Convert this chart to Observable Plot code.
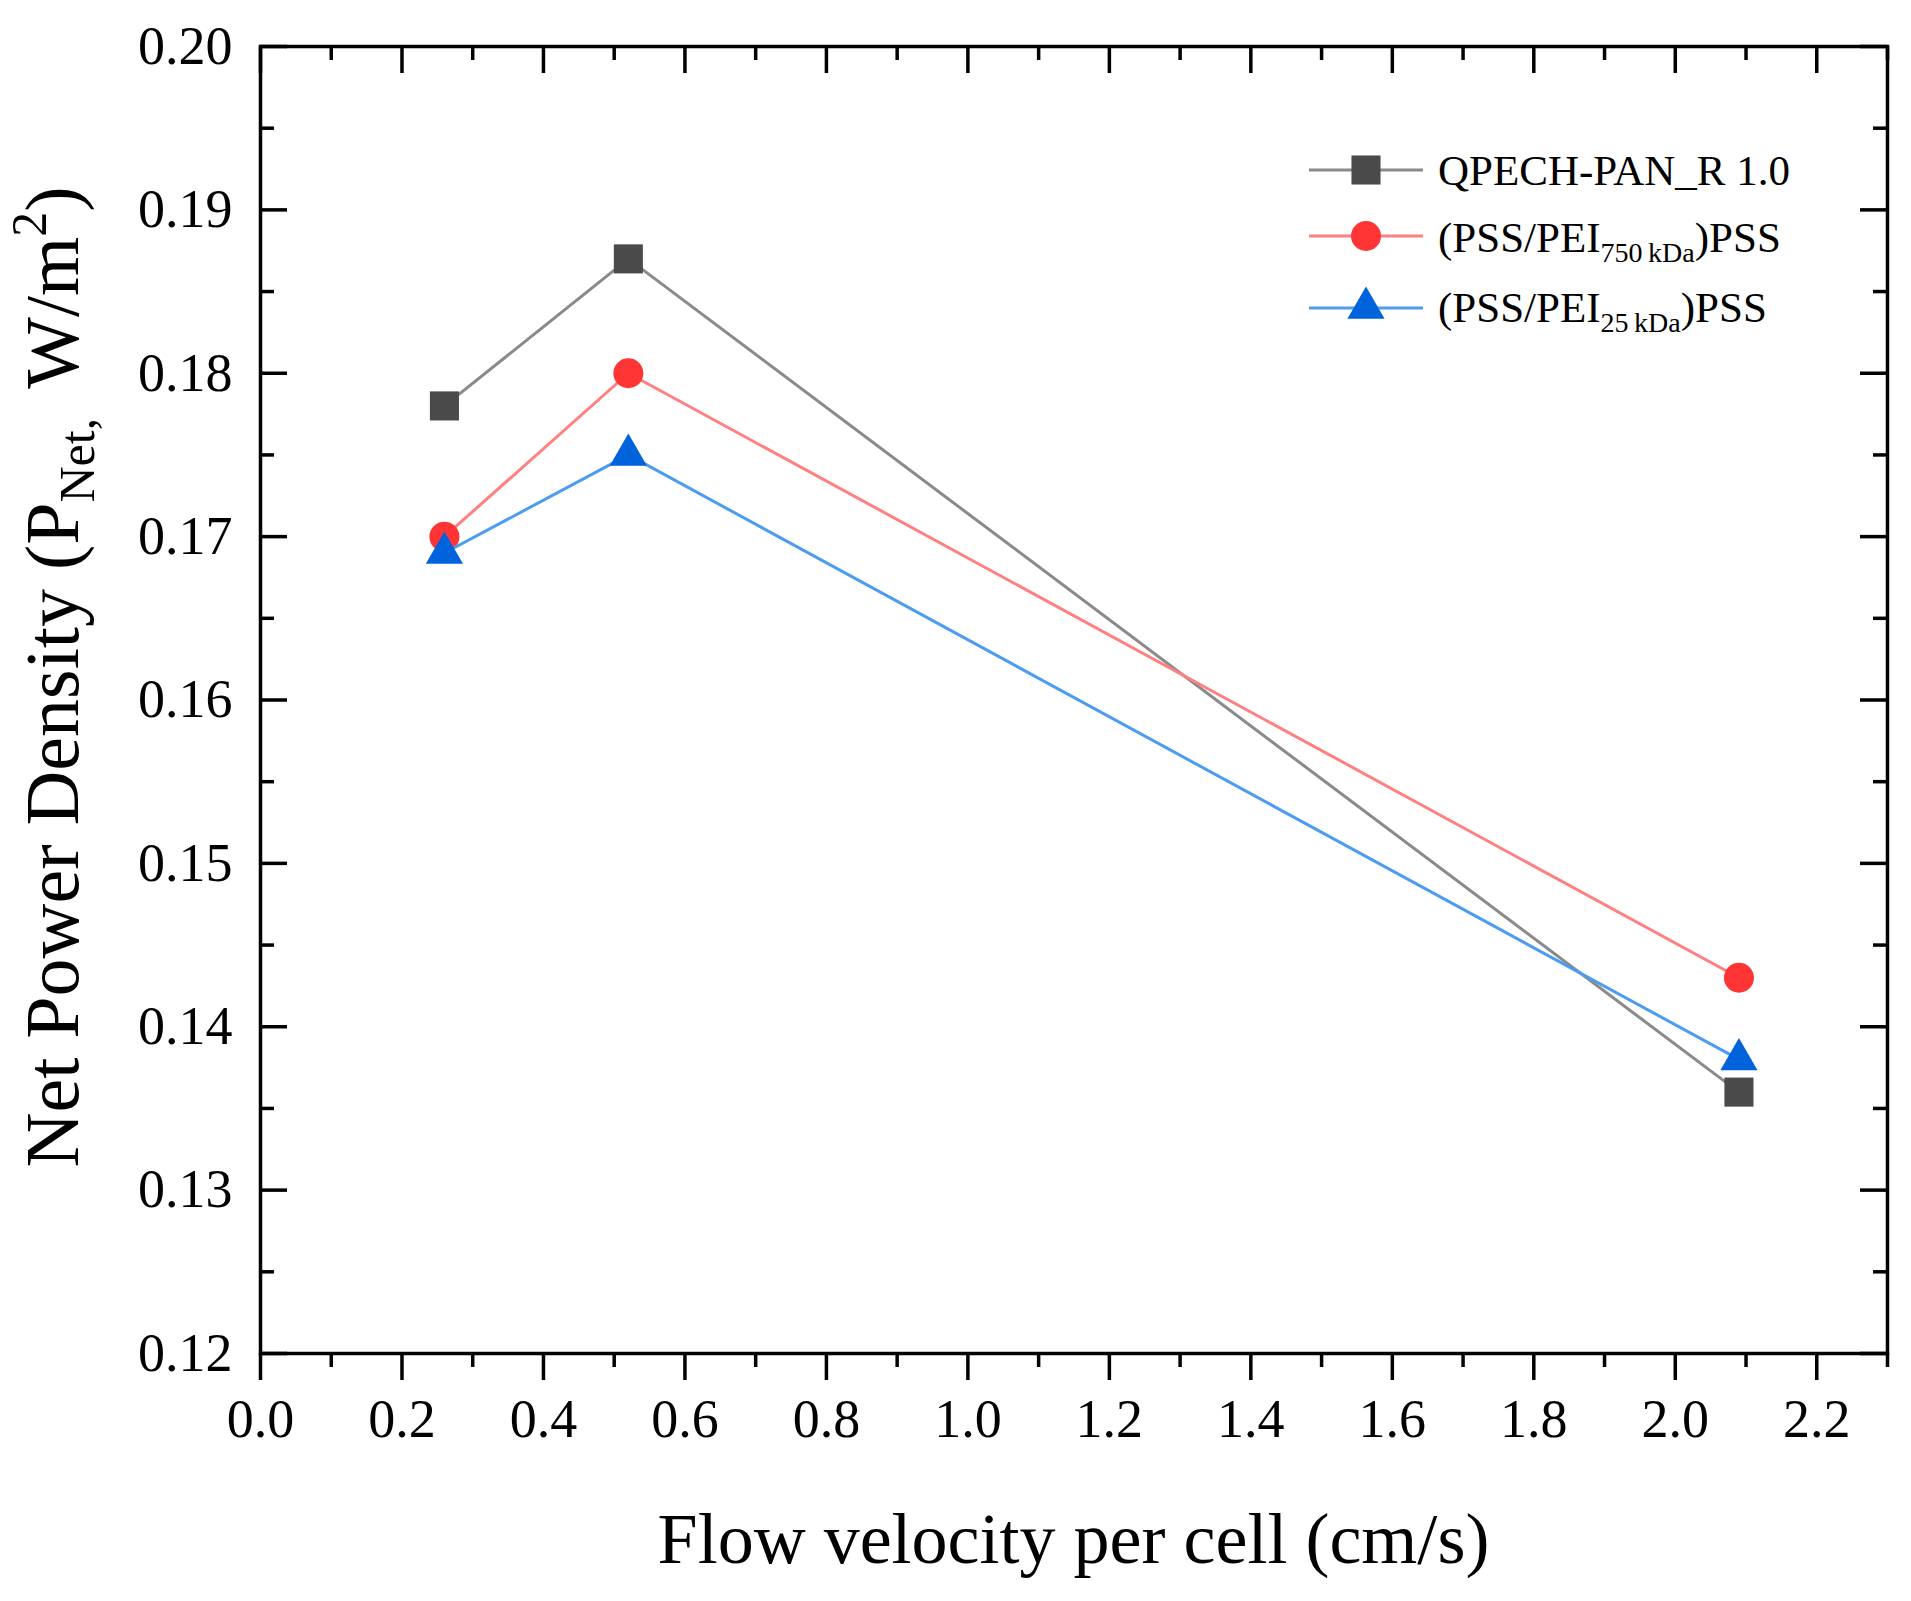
<!DOCTYPE html>
<html><head><meta charset="utf-8">
<script src="https://cdn.jsdelivr.net/npm/d3@7"></script>
<script src="https://cdn.jsdelivr.net/npm/@observablehq/plot@0.6"></script>
<style>html,body{margin:0;padding:0;background:#fff;}</style>
</head><body><div id="chart"></div>
<script>
// ---- data ----
const flowVelocity = [0.26, 0.52, 2.09];
const qpechPan = [0.178, 0.187, 0.136];
const pei750 = [0.170, 0.180, 0.143];
const pei25 = [0.169, 0.175, 0.138];
const seriesNames = ["QPECH-PAN_R 1.0", "(PSS/PEI750 kDa)PSS", "(PSS/PEI25 kDa)PSS"];
const xTickValues = [0, 0.2, 0.4, 0.6, 0.8, 1.0, 1.2, 1.4, 1.6, 1.8, 2.0, 2.2];
const xMinorTicks = [0.1, 0.3, 0.5, 0.7, 0.9, 1.1, 1.3, 1.5, 1.7, 1.9, 2.1, 2.3];
const yTickValues = [0.12, 0.13, 0.14, 0.15, 0.16, 0.17, 0.18, 0.19, 0.20];
const yMinorTicks = [0.125, 0.135, 0.145, 0.155, 0.165, 0.175, 0.185, 0.195];
const xLabel = "Flow velocity per cell (cm/s)";

// ---- style ----
const W = 1911, H = 1601;
const mL = 260, mR = 24, mT = 46, mB = H - 1353;
const pw = W - mL - mR, ph = H - mT - mB;
const styles = [
  {line: "#8a8a8a", fill: "#4a4a4a", symbol: "square", r: 16.4},
  {line: "#ff8080", fill: "#ff3535", symbol: "circle", r: 15},
  {line: "#4d9cf0", fill: "#0063dc", symbol: "triangle", r: 13.8}
];
const valueSets = [qpechPan, pei750, pei25];
const rows = valueSets.map((vals, i) => flowVelocity.map((x, j) => ({x, y: vals[j], s: seriesNames[i]})));

const seriesMarks = rows.flatMap((data, i) => [
  Plot.line(data, {x: "x", y: "y", stroke: styles[i].line, strokeWidth: 3}),
  Plot.dot(data, {x: "x", y: "y", symbol: () => styles[i].symbol, r: styles[i].r, fill: styles[i].fill, stroke: "none"})
]);

const tickStyle = {stroke: "#000", strokeWidth: 3.5};
const plot = Plot.plot({
  width: W, height: H,
  marginLeft: mL, marginRight: mR, marginTop: mT, marginBottom: mB,
  style: {fontFamily: "Liberation Serif", background: "#fff", color: "#000"},
  x: {domain: [0, 2.3]},
  y: {domain: [0.12, 0.20]},
  marks: [
    Plot.axisY(yTickValues, {tickSize: 0, tickPadding: 28, tickFormat: d3.format(".2f"), fontSize: 54, label: null}),
    Plot.axisX(xTickValues, {tickSize: 27, tickPadding: 18, tickFormat: d3.format(".1f"), fontSize: 54, label: null, strokeWidth: 3.5}),
    Plot.axisX(xMinorTicks, {tickSize: 14, tickFormat: () => "", label: null, strokeWidth: 3.5}),
    // inner ticks left / right
    Plot.tickY(yTickValues, {y: d => d, insetRight: pw - 27, ...tickStyle}),
    Plot.tickY(yMinorTicks, {y: d => d, insetRight: pw - 14, ...tickStyle}),
    Plot.tickY(yTickValues, {y: d => d, insetLeft: pw - 27, ...tickStyle}),
    Plot.tickY(yMinorTicks, {y: d => d, insetLeft: pw - 14, ...tickStyle}),
    // inner ticks top
    Plot.tickX(xTickValues, {x: d => d, insetBottom: ph - 27, ...tickStyle}),
    Plot.tickX(xMinorTicks, {x: d => d, insetBottom: ph - 14, ...tickStyle}),
    ...seriesMarks,
    Plot.frame({stroke: "#000", strokeWidth: 3.5})
  ]
});
document.getElementById("chart").appendChild(plot);

const svg = d3.select(plot);
// x label
svg.append("text").attr("x", mL + pw / 2).attr("y", 1563).attr("text-anchor", "middle")
  .attr("font-size", 72).attr("fill", "#000").text(xLabel);
// y label
const yl = svg.append("text").attr("transform", "translate(78,677) rotate(-90)")
  .attr("text-anchor", "middle").attr("font-size", 76).attr("fill", "#000");
yl.append("tspan").text("Net Power Density (P");
yl.append("tspan").attr("font-size", 50).attr("dy", 16).text("Net,");
yl.append("tspan").attr("dy", -16).attr("dx", 10).text("\u00A0W/m");
yl.append("tspan").attr("font-size", 50).attr("dy", -32).text("2");
yl.append("tspan").attr("dy", 32).text(")");

// legend
const legRows = [
  {y: 170, base: 185, main: "QPECH-PAN_R 1.0"},
  {y: 236, base: 252, pre: "(PSS/PEI", sub: "750\u2009kDa", post: ")PSS"},
  {y: 308, base: 322, pre: "(PSS/PEI", sub: "25\u2009kDa", post: ")PSS"}
];
const lx1 = 1309, lx2 = 1423, lcx = 1366, tx = 1438;
legRows.forEach((row, i) => {
  const st = styles[i];
  svg.append("line").attr("x1", lx1).attr("x2", lx2).attr("y1", row.y).attr("y2", row.y)
    .attr("stroke", st.line).attr("stroke-width", 3);
  const sym = st.symbol === "square" ? d3.symbolSquare : st.symbol === "circle" ? d3.symbolCircle : d3.symbolTriangle;
  svg.append("path").attr("transform", `translate(${lcx},${row.y})`)
    .attr("d", d3.symbol(sym, Math.PI * st.r * st.r)()).attr("fill", st.fill);
  const t = svg.append("text").attr("x", tx).attr("y", row.base).attr("text-anchor", "start")
    .attr("font-size", 43).attr("fill", "#000");
  if (row.main) t.text(row.main);
  else {
    t.append("tspan").text(row.pre);
    t.append("tspan").attr("font-size", 28).attr("dy", 10).text(row.sub);
    t.append("tspan").attr("dy", -10).text(row.post);
  }
});
</script>
</body></html>
